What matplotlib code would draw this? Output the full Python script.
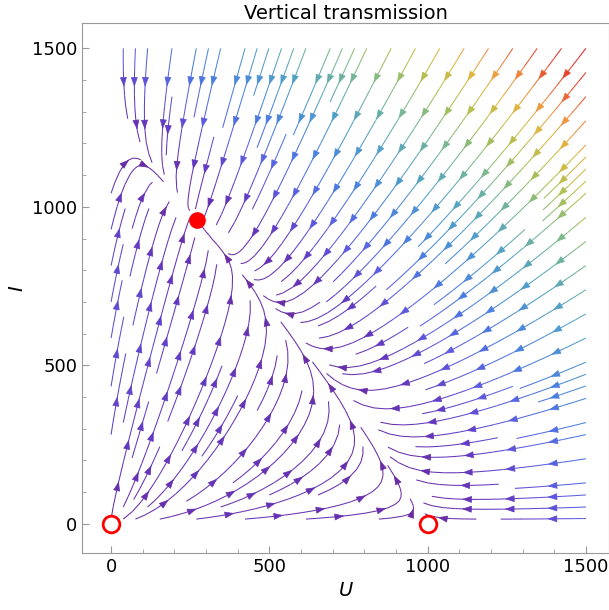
import numpy as np
import matplotlib.pyplot as plt
from matplotlib.colors import LinearSegmentedColormap
from matplotlib.patches import FancyArrowPatch

# vertical transmission model: U uninfected, I infected
b_u, b_i = 1.0, 1.838      # birth rates
v = 0.9                    # vertical transmission fidelity
d = 0.3678                 # death rate
K = 1581.7                 # density scale

# equilibria shown on the plot
stable_pts = [(270, 960)]
unstable_pts = [(0, 0), (1000, 0)]

x_ticks = [0, 500, 1000, 1500]
y_ticks = [0, 500, 1000, 1500]

rainbow = LinearSegmentedColormap.from_list("mma_rainbow", [
    (0.00, "#6a2aa0"), (0.07, "#6338c0"), (0.14, "#5c5ce0"),
    (0.22, "#4a7ce0"), (0.34, "#50a0c8"), (0.47, "#78b890"),
    (0.58, "#b0c050"), (0.68, "#dcb840"), (0.77, "#f09040"),
    (0.86, "#e85030"), (1.00, "#dc2424")])

u = np.linspace(0, 1500, 300)
i = np.linspace(15, 1500, 300)
U, I = np.meshgrid(u, i)
g = 1 - (U + I) / K
dU = (b_u * U + (1 - v) * b_i * I) * g - d * U
dI = v * b_i * I * g - d * I
speed = np.hypot(dU, dI)
norm = plt.Normalize(0, speed.max())

fig = plt.figure(figsize=(6.09, 6.10), dpi=100)
ax = fig.add_axes([0.1346, 0.0934, 0.8654, 0.8689])

sp = ax.streamplot(U, I, dU, dI, color=speed, cmap=rainbow, norm=norm,
                   density=1.35, linewidth=0.75, arrowstyle="-")
for p in list(ax.patches):
    p.remove()

# regroup segments into streamlines and put several arrowheads on each
segs = sp.lines.get_segments()
vals = np.asarray(sp.lines.get_array())
lines = []
cur = None
for s, c in zip(segs, vals):
    if cur is not None and np.allclose(s[0], cur[-1][0][1]):
        cur.append((s, c))
    else:
        cur = [(s, c)]
        lines.append(cur)

step = 135.0
for ln in lines:
    pts = np.vstack([ln[0][0][0]] + [s[1] for s, _ in ln])
    cs = np.array([c for _, c in ln])
    seglen = np.hypot(*np.diff(pts, axis=0).T)
    cum = np.concatenate([[0], np.cumsum(seglen)])
    total = cum[-1]
    if total < 40:
        continue
    pos = np.arange(step * 0.9, total - 15, step)
    if len(pos) == 0:
        pos = [total * 0.55]
    for sdist in pos:
        s0 = max(sdist - 10, 0)
        p0 = (np.interp(s0, cum, pts[:, 0]), np.interp(s0, cum, pts[:, 1]))
        p1 = (np.interp(sdist, cum, pts[:, 0]), np.interp(sdist, cum, pts[:, 1]))
        cval = np.interp(sdist, cum[1:], cs)
        col = rainbow(norm(cval))
        ax.add_patch(FancyArrowPatch(p0, p1,
                                     arrowstyle="-|>,head_length=0.75,head_width=0.27",
                                     mutation_scale=8, color=col, lw=0.5,
                                     shrinkA=0, shrinkB=0, zorder=3))

for x, y in stable_pts:
    ax.plot(x, y, "o", ms=11, color="#ff0000", zorder=5)
for x, y in unstable_pts:
    ax.plot(x, y, "o", ms=12, mfc="white", mec="#ff0000", mew=2, zorder=5)

ax.set_xlim(-92, 1573)
ax.set_ylim(-92, 1580)
ax.set_xticks(x_ticks)
ax.set_yticks(y_ticks)
ax.set_xticks(np.arange(0, 1600, 100), minor=True)
ax.set_yticks(np.arange(0, 1600, 100), minor=True)
ax.tick_params(direction="in", length=5, color="#999999", labelsize=13)
ax.tick_params(which="minor", direction="in", length=3, color="#999999")
for s in ax.spines.values():
    s.set_color("#999999")

ax.set_xlabel("U", fontsize=14, style="italic")
ax.set_ylabel("I", fontsize=14, style="italic")
ax.set_title("Vertical transmission", fontsize=14, pad=3)

fig.savefig("out.png")
